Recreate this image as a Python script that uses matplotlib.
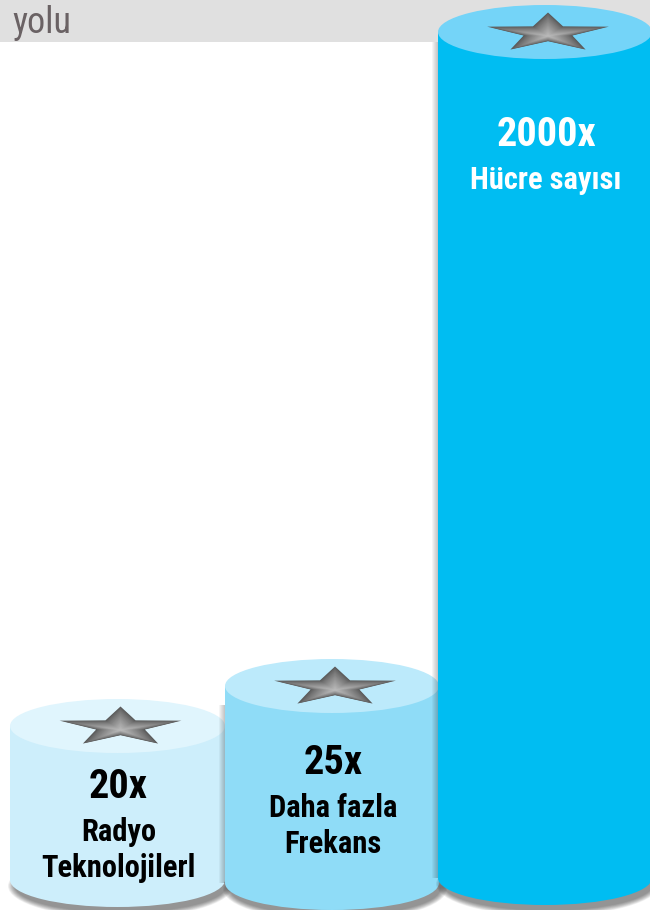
import numpy as np
import matplotlib
matplotlib.use("Agg")
import matplotlib.pyplot as plt
from matplotlib.patches import Ellipse, Polygon, Rectangle
from matplotlib import font_manager

# ---- data ----
multipliers = ["20x", "25x", "2000x"]
categories = ["Radyo\nTeknolojilerl", "Daha fazla\nFrekans", "Hücre sayısı"]
cyl_heights = [154, 197, 846]          # visible side height of each cylinder (px)
title_text = "yolu"

# ---- style / layout ----
W, H = 650, 910
x_centers = [117.5, 332, 545]
widths = [215, 214, 214]
bases = [880, 883, 878]                 # y (px from top) of the bottom of the side
ell_h = 27                              # half-height of the elliptical caps
side_colors = ["#cdeefb", "#8fdcf7", "#00bdf2"]
top_colors = ["#e0f5fd", "#bceafb", "#74d4f8"]
text_colors = ["#000000", "#000000", "#ffffff"]
num_offsets = [61, 77, 103]             # from cap centre to number
line_gap1 = [45, 45, 45]
line_gap2 = 36

avail = {f.name for f in font_manager.fontManager.ttflist}
prefs = ["Liberation Sans Narrow", "Arial Narrow", "Roboto Condensed", "PT Sans Narrow",
         "Archivo Narrow", "Open Sans Condensed", "Pragati Narrow", "Liberation Sans"]
narrow = next(p for p in prefs if p in avail)
fam = [narrow, "DejaVu Sans"]

fig = plt.figure(figsize=(W / 100, H / 100), dpi=100)
ax = fig.add_axes([0, 0, 1, 1])
ax.set_xlim(0, W)
ax.set_ylim(H, 0)
ax.axis("off")

# top grey band
ax.add_patch(Rectangle((0, 0), W, 42, facecolor="#e0e0e0", edgecolor="none", zorder=0))
ax.text(12, 33, title_text, fontsize=26, color="#6a6264", family=fam,
        ha="left", va="baseline", zorder=1)


def star_pts(cx, cy, rx, ry, inner=0.40):
    pts = []
    for i in range(10):
        a = -np.pi / 2 + i * np.pi / 5
        r = 1.0 if i % 2 == 0 else inner
        pts.append((cx + rx * r * np.cos(a), cy + ry * r * np.sin(a)))
    return pts


def mix(c1, c2, t):
    c1 = np.array(matplotlib.colors.to_rgb(c1))
    c2 = np.array(matplotlib.colors.to_rgb(c2))
    return tuple(c1 * (1 - t) + c2 * t)


for i in range(3):
    z = 2 + i * 10
    xc, w, base = x_centers[i], widths[i], bases[i]
    top = base - cyl_heights[i]
    # soft shadow under bottom
    for k in range(10):
        ax.add_patch(Ellipse((xc + 3, base + 6), w + 10 - k * 1.5, 2 * ell_h + 10 - k * 1.2,
                             facecolor="#000000", alpha=0.05, edgecolor="none", zorder=z))
    if i > 0:
        # slight shadow cast on the neighbour on the left
        prev_top = bases[i - 1] - cyl_heights[i - 1]
        s_top = max(top + 10, prev_top - ell_h + 6) if i == 1 else top + 10
        for k in range(6):
            ax.add_patch(Rectangle((xc - w / 2 - 6 + k, s_top), 6 - k, base - s_top,
                                   facecolor="#000000", alpha=0.04, edgecolor="none", zorder=z))
    # bottom ellipse
    ax.add_patch(Ellipse((xc, base), w, 2 * ell_h, facecolor=side_colors[i],
                         edgecolor="none", zorder=z + 1))
    # side drawn as a bar
    ax.bar(xc, -cyl_heights[i], width=w, bottom=base, color=side_colors[i],
           edgecolor="none", zorder=z + 1)
    # top cap
    ax.add_patch(Ellipse((xc, top), w, 2 * ell_h, facecolor=top_colors[i],
                         edgecolor="none", zorder=z + 2))
    # star with shading
    n = 18
    for k in range(n):
        s = 1 - k / n
        col = mix("#5a5a5a", "#b9b9b9", (k / (n - 1)) ** 0.8)
        ax.add_patch(Polygon(star_pts(xc + 3, top + 1 + 3 * (1 - s), 64 * s, 20.5 * s),
                             closed=True, facecolor=col, edgecolor="none", zorder=z + 3))
    # labels
    ny = top + num_offsets[i]
    ax.text(xc + 1, ny, multipliers[i], fontsize=29, fontweight="bold", family=fam,
            color=text_colors[i], ha="center", va="center", zorder=z + 4)
    lines = categories[i].split("\n")
    for j, ln in enumerate(lines):
        ax.text(xc + 1, ny + line_gap1[i] + j * line_gap2, ln, fontsize=22,
                fontweight="bold", family=fam, color=text_colors[i],
                ha="center", va="center", zorder=z + 4)

fig.savefig("out.png", dpi=100)
